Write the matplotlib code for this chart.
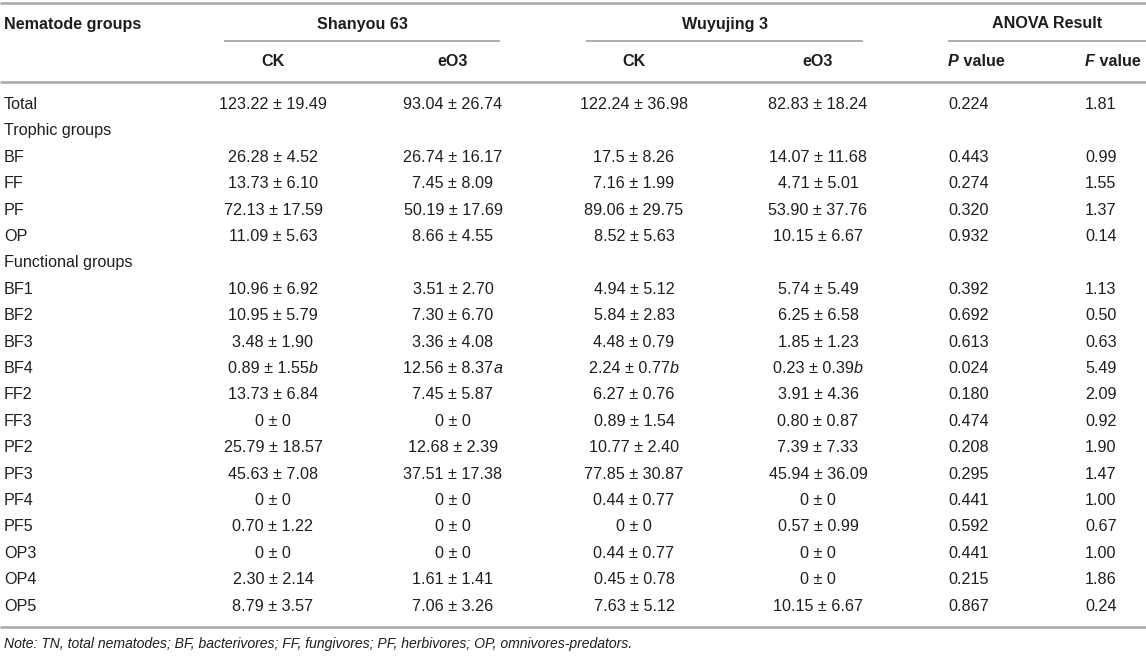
import matplotlib
matplotlib.use("Agg")
import matplotlib.pyplot as plt

# ---------------- data ----------------
row_labels = ["Total", "Trophic groups", "BF", "FF", "PF", "OP", "Functional groups",
              "BF1", "BF2", "BF3", "BF4", "FF2", "FF3", "PF2", "PF3", "PF4", "PF5",
              "OP3", "OP4", "OP5"]
section_rows = ["Trophic groups", "Functional groups"]

sy_ck_mean = ["123.22", "26.28", "13.73", "72.13", "11.09", "10.96", "10.95", "3.48", "0.89",
              "13.73", "0", "25.79", "45.63", "0", "0.70", "0", "2.30", "8.79"]
sy_ck_sd = ["19.49", "4.52", "6.10", "17.59", "5.63", "6.92", "5.79", "1.90", "1.55",
            "6.84", "0", "18.57", "7.08", "0", "1.22", "0", "2.14", "3.57"]
sy_eo3_mean = ["93.04", "26.74", "7.45", "50.19", "8.66", "3.51", "7.30", "3.36", "12.56",
               "7.45", "0", "12.68", "37.51", "0", "0", "0", "1.61", "7.06"]
sy_eo3_sd = ["26.74", "16.17", "8.09", "17.69", "4.55", "2.70", "6.70", "4.08", "8.37",
             "5.87", "0", "2.39", "17.38", "0", "0", "0", "1.41", "3.26"]
wy_ck_mean = ["122.24", "17.5", "7.16", "89.06", "8.52", "4.94", "5.84", "4.48", "2.24",
              "6.27", "0.89", "10.77", "77.85", "0.44", "0", "0.44", "0.45", "7.63"]
wy_ck_sd = ["36.98", "8.26", "1.99", "29.75", "5.63", "5.12", "2.83", "0.79", "0.77",
            "0.76", "1.54", "2.40", "30.87", "0.77", "0", "0.77", "0.78", "5.12"]
wy_eo3_mean = ["82.83", "14.07", "4.71", "53.90", "10.15", "5.74", "6.25", "1.85", "0.23",
               "3.91", "0.80", "7.39", "45.94", "0", "0.57", "0", "0", "10.15"]
wy_eo3_sd = ["18.24", "11.68", "5.01", "37.76", "6.67", "5.49", "6.58", "1.23", "0.39",
             "4.36", "0.87", "7.33", "36.09", "0", "0.99", "0", "0", "6.67"]
# significance letters (only BF4 carries them)
sy_ck_letter = [""] * 8 + ["b"] + [""] * 9
sy_eo3_letter = [""] * 8 + ["a"] + [""] * 9
wy_ck_letter = [""] * 8 + ["b"] + [""] * 9
wy_eo3_letter = [""] * 8 + ["b"] + [""] * 9
p_values = ["0.224", "0.443", "0.274", "0.320", "0.932", "0.392", "0.692", "0.613", "0.024",
            "0.180", "0.474", "0.208", "0.295", "0.441", "0.592", "0.441", "0.215", "0.867"]
f_values = ["1.81", "0.99", "1.55", "1.37", "0.14", "1.13", "0.50", "0.63", "5.49",
            "2.09", "0.92", "1.90", "1.47", "1.00", "0.67", "1.00", "1.86", "0.24"]

group_headers = ["Shanyou 63", "Wuyujing 3", "ANOVA Result"]
sub_headers = ["CK", "eO3", "CK", "eO3"]
first_header = "Nematode groups"
note_text = ("Note: TN, total nematodes; BF, bacterivores; FF, fungivores; "
             "PF, herbivores; OP, omnivores-predators.")

# ---------------- layout ----------------
W, H = 1146, 656
FONT = "Liberation Sans"
FS = 11.6
TXT = "#1e1e1e"
LINE = "#a8a8a8"

fig = plt.figure(figsize=(W / 100, H / 100), dpi=100)
ax = fig.add_axes([0, 0, 1, 1])
ax.set_xlim(0, W)
ax.set_ylim(H, 0)
ax.axis("off")
renderer = fig.canvas.get_renderer()


def runs_text(x, y, runs, ha="left", size=FS):
    """runs: list of (text, weight, style). Draw consecutively."""
    objs = []
    widths = []
    for t, w, s in runs:
        o = ax.text(0, y, t, fontsize=size, family=FONT, fontweight=w, fontstyle=s,
                    color=TXT, va="center", ha="left")
        objs.append(o)
        widths.append(o.get_window_extent(renderer).width)
    total = sum(widths)
    if ha == "center":
        start = x - total / 2
    elif ha == "right":
        start = x - total
    else:
        start = x
    cur = start
    for o, w in zip(objs, widths):
        o.set_x(cur)
        cur += w
    return objs


# column positions
x_label = 4
col_centers = [273, 453, 634, 818]
x_p = 948
x_f = 1085
spans = [(224, 500), (586, 863), (948, W)]

y_head = 24
y_span_line = 41
y_sub = 61
y_rule = 82
y_first = 104.5
dy = 26.4
y_bottom_rule = 627
y_note = 644

# rules
ax.plot([0, W], [3, 3], color=LINE, lw=1.8, solid_capstyle="butt")
ax.plot([0, W], [y_rule, y_rule], color=LINE, lw=1.8, solid_capstyle="butt")
ax.plot([0, W], [y_bottom_rule, y_bottom_rule], color=LINE, lw=1.8, solid_capstyle="butt")
for (a, b) in spans:
    ax.plot([a, b], [y_span_line, y_span_line], color=LINE, lw=1.3, solid_capstyle="butt")

# headers
runs_text(x_label, y_head, [(first_header, "bold", "normal")])
for (a, b), g in zip(spans, group_headers):
    runs_text((a + b) / 2, y_head, [(g, "bold", "normal")], ha="center")
for c, s in zip(col_centers, sub_headers):
    runs_text(c, y_sub, [(s, "bold", "normal")], ha="center")
runs_text(x_p, y_sub, [("P", "bold", "italic"), (" value", "bold", "normal")])
runs_text(x_f, y_sub, [("F", "bold", "italic"), (" value", "bold", "normal")])

# body
cols = [(sy_ck_mean, sy_ck_sd, sy_ck_letter),
        (sy_eo3_mean, sy_eo3_sd, sy_eo3_letter),
        (wy_ck_mean, wy_ck_sd, wy_ck_letter),
        (wy_eo3_mean, wy_eo3_sd, wy_eo3_letter)]
k = 0
for i, lab in enumerate(row_labels):
    y = y_first + i * dy
    runs_text(x_label, y, [(lab, "normal", "normal")])
    if lab in section_rows:
        continue
    for c, (m, s, l) in zip(col_centers, cols):
        runs = [(f"{m[k]} \u00b1 {s[k]}", "normal", "normal")]
        if l[k]:
            runs.append((l[k], "normal", "italic"))
        runs_text(c, y, runs, ha="center")
    runs_text(x_p, y, [(p_values[k], "normal", "normal")])
    runs_text(x_f, y, [(f_values[k], "normal", "normal")])
    k += 1

runs_text(x_label, y_note, [(note_text, "normal", "italic")], size=10.1)

fig.savefig("out.png", dpi=100)
